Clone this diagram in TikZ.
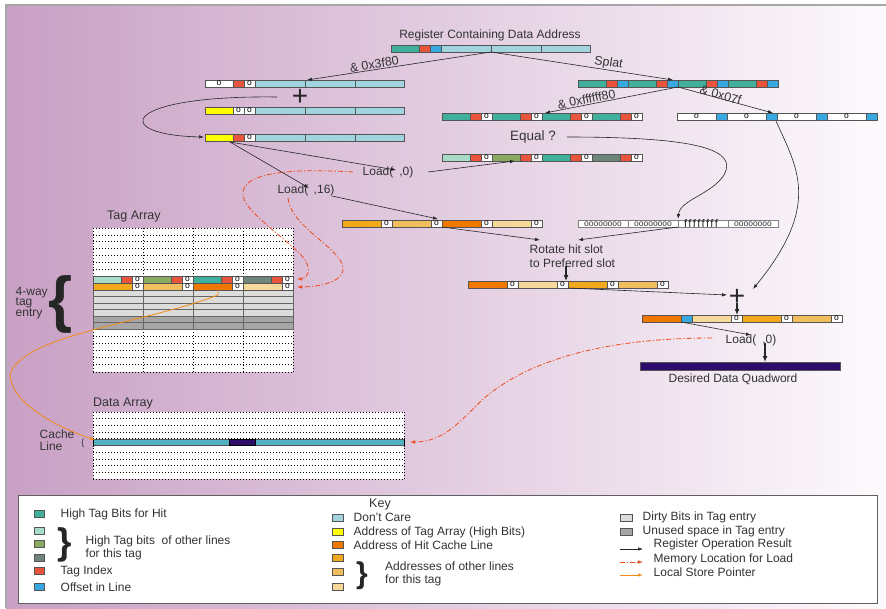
\documentclass[tikz,border=0pt]{standalone}
\usepackage{fontspec}
\setmainfont{Liberation Sans}
\usetikzlibrary{arrows.meta,calc}

\definecolor{bgL}{HTML}{C8A0C4}
\definecolor{bgR}{HTML}{FDFAFD}
\definecolor{txt}{HTML}{333333}
\definecolor{hit}{HTML}{40B09C}
\definecolor{mint}{HTML}{A8DCC8}
\definecolor{olive}{HTML}{8AAA62}
\definecolor{sage}{HTML}{6E867A}
\definecolor{tidx}{HTML}{E8553C}
\definecolor{offs}{HTML}{38A8E0}
\definecolor{dcare}{HTML}{A2D4E0}
\definecolor{tagaddr}{HTML}{FFFF00}
\definecolor{hitline}{HTML}{F07800}
\definecolor{oa}{HTML}{F2A81C}
\definecolor{ob}{HTML}{F0BE5C}
\definecolor{oc}{HTML}{F6D89A}
\definecolor{dirty}{HTML}{DCDCDA}
\definecolor{unused}{HTML}{A6A6A6}
\definecolor{quad}{HTML}{2E0C6C}
\definecolor{cline}{HTML}{52B2C2}
\definecolor{memld}{HTML}{EE4A1A}
\definecolor{lsp}{HTML}{F28A18}
\definecolor{edge}{HTML}{555555}

% a register drawn as a row of coloured fields: x, top y, list width/colour/label
\newcommand\regbar[3]{%
  \xdef\segx{#1}%
  \foreach \w/\c/\l in {#3}{%
    \pgfmathsetmacro\segend{\segx+\w}%
    \filldraw[seg,fill=\c] (\segx,#2) rectangle (\segend,#2+7);
    \node[olab] at ({(\segx+\segend)/2},#2+3.6) {\l};
    \xdef\segx{\segend}%
  }%
}
% a small colour swatch of the key: left x, centre y, width, colour
\newcommand\keyswatch[4]{\filldraw[keysq,fill=#4] (#1,#2-3.5) rectangle (#1+#3,#2+3.5);}

\begin{document}
\begin{tikzpicture}[x=1pt,y=-1pt,
  every node/.style={text=txt},
  lbl/.style={font=\fontsize{12}{13.5}\selectfont, inner sep=0.5pt},
  rlab/.style={font=\fontsize{12.5}{14}\selectfont, inner sep=0.8pt},
  seg/.style={draw=edge, line width=0.6pt},
  olab/.style={font=\fontsize{8.5}{6}\selectfont, inner sep=0pt, text=black},
  conn/.style={draw=black!85, line width=0.6pt, -{Latex[length=5pt,width=3.5pt]}},
  bigarrow/.style={draw=black!85, line width=1.4pt, -{Latex[length=6pt,width=5pt]}},
  memload/.style={draw=memld, line width=0.8pt, dash pattern=on 5pt off 2pt on 1.2pt off 2pt, -{Latex[length=5pt,width=3.5pt]}},
  lsptr/.style={draw=lsp, line width=0.8pt, -{Latex[length=5pt,width=3.5pt]}},
  dotline/.style={draw=black, line width=0.7pt, dash pattern=on 1.2pt off 1.8pt},
  grayrow/.style={draw=gray!80!black, line width=0.6pt},
  keysq/.style={draw=edge, line width=0.6pt},
  plus/.style={font=\fontsize{28}{28}\selectfont, inner sep=0pt, text=black!85},
  bigbrace/.style={font=\fontsize{#1}{#1}\selectfont\bfseries, inner sep=0pt, text=black!85},
]
\useasboundingbox (0,0) rectangle (886,608);

% page background with frame
\fill[white] (0,0) rectangle (886,608);
\shade[left color=bgL, right color=bgR] (6,5) rectangle (886,608);
\draw[gray!70, line width=1.2pt] (6,608) -- (6,5) -- (886,5);

% ---------- address register and derived values ----------
\node[lbl] (regtitle) at (490,35) {Register Containing Data Address};
\regbar{391}{45}{28/hit/{},11/tidx/{},11/offs/{},50/dcare/{},50/dcare/{},49/dcare/{}}

\regbar{205}{80}{28/white/o,11/tidx/{},11/white/o,50/dcare/{},50/dcare/{},49/dcare/{}}
\node[plus] (plusA) at (300,97) {+};
\regbar{205}{107}{28/tagaddr/{},11/white/o,11/white/o,50/dcare/{},50/dcare/{},49/dcare/{}}
\regbar{205}{134}{28/tagaddr/{},11/tidx/{},11/white/o,50/dcare/{},50/dcare/{},49/dcare/{}}

\regbar{578}{80}{28/hit/{},11/tidx/{},11/offs/{},28/hit/{},11/tidx/{},11/offs/{},28/hit/{},11/tidx/{},11/offs/{},28/hit/{},11/tidx/{},11/offs/{}}
\regbar{442}{113}{28/hit/{},11/tidx/{},11/white/o,28/hit/{},11/tidx/{},11/white/o,28/hit/{},11/tidx/{},11/white/o,28/hit/{},11/tidx/{},11/white/o}
\regbar{677}{113}{39/white/o,11/offs/{},39/white/o,11/offs/{},39/white/o,11/offs/{},39/white/o,11/offs/{}}

\node[font=\fontsize{13.5}{15}\selectfont, inner sep=0.5pt] (equal) at (533,137) {Equal ?};
\regbar{442}{154}{28/mint/{},11/tidx/{},11/white/o,28/olive/{},11/tidx/{},11/white/o,28/hit/{},11/tidx/{},11/white/o,28/sage/{},11/tidx/{},11/white/o}

\node[lbl] (load0) at (388,172) {Load(\hspace{6pt},0)};
\node[lbl] (load16) at (306,190) {Load(\hspace{5.5pt},16)};

\regbar{342}{220}{39/oa/{},11/white/o,39/ob/{},11/white/o,39/hitline/{},11/white/o,39/oc/{},11/white/o}

% rotate mask
\foreach \xx/\tt in {578/oooooooo,628/oooooooo,728/oooooooo}
  {\filldraw[draw=gray, line width=0.6pt, fill=white] (\xx,220) rectangle (\xx+50,227);
   \node[font=\fontsize{8.5}{8}\selectfont, inner sep=0pt, text=black!80] at (\xx+25,224) {\tt};}
\filldraw[draw=gray, line width=0.6pt, fill=white] (678,220) rectangle (728,227);
\node[font=\fontsize{11}{8}\selectfont\addfontfeature{LetterSpace=14}, inner sep=0pt, text=black!85] (fmask) at (701,223.5) {ffffffff};

\node[lbl, anchor=west, align=left] (rotate) at (529,256) {Rotate hit slot\\to Preferred slot};
\regbar{468}{281}{39/hitline/{},11/white/o,39/oc/{},11/white/o,39/oa/{},11/white/o,39/ob/{},11/white/o}
\node[plus] (plusB) at (737,297) {+};
\regbar{642}{315}{39/hitline/{},11/offs/{},39/oc/{},11/white/o,39/oa/{},11/white/o,39/ob/{},11/white/o}
\node[lbl] (loadq) at (751,340) {Load(\hspace{6pt},0)};
\filldraw[draw=edge, line width=0.6pt, fill=quad] (640,362) rectangle (840,370);
\node[lbl] (quadword) at (733,379) {Desired Data Quadword};

% ---------- connectors between registers ----------
\coordinate (regsplit) at (491,52);
\coordinate (aIn) at (307,80);
\coordinate (dIn) at (673,80);
\coordinate (dOut) at (678,87);
\coordinate (eIn) at (545,113);
\coordinate (fIn) at (773,113);
\coordinate (sumOut) at (277,97);
\coordinate (cIn) at (204,137);
\coordinate (cOut) at (230,142);
\coordinate (ld0tip) at (396,170);
\coordinate (ld16tip) at (309,188);
\coordinate (ld0out) at (428,172);
\coordinate (gIn) at (515,161);
\coordinate (ld16out) at (332,196);
\coordinate (hIn) at (438,219);
\coordinate (eqOut) at (567,137);
\coordinate (maskIn) at (678,219);
\coordinate (fOut) at (776,121);
\coordinate (plusBin) at (753,289);
\coordinate (hOut) at (442,227);
\coordinate (rotL) at (540,240);
\coordinate (iOut) at (678,227);
\coordinate (rotR) at (578,240);
\coordinate (rotDown) at (566,266);
\coordinate (jIn) at (566,281);
\coordinate (jOut) at (568,288);
\coordinate (plusBleft) at (727,295);
\coordinate (plusBdown) at (737,303);
\coordinate (kIn) at (737,315);
\coordinate (kOut) at (681,322);
\coordinate (loadqIn) at (751,335);
\coordinate (loadqDown) at (765,343);
\coordinate (quadIn) at (765,362);

\draw[conn] (regsplit) -- node[rlab, sloped, above, pos=0.63] (maskA) {\& 0x3f80} (aIn);
\draw[conn] (regsplit) -- node[rlab, sloped, above, pos=0.64] (splat) {Splat} (dIn);
\draw[conn] (dOut) -- node[rlab, sloped, above, pos=0.68] (maskE) {\& 0xffffff80} (eIn);
\draw[conn] (dOut) -- node[rlab, sloped, above, pos=0.44, yshift=-2pt] (maskF) {\& 0x07f} (fIn);
\draw[conn] (sumOut) .. controls (120,95) and (110,135) .. (cIn);
\draw[conn] (cOut) -- (ld0tip);
\draw[conn] (cOut) -- (ld16tip);
\draw[conn] (ld0out) -- (gIn);
\draw[conn] (ld16out) -- (hIn);
\draw[conn] (eqOut) .. controls (700,137) and (738,150) .. (724,175) .. controls (712,194) and (680,200) .. (maskIn);
\draw[conn] (fOut) .. controls (797,168) and (822,205) .. (plusBin);
\draw[conn] (hOut) -- (rotL);
\draw[conn] (iOut) -- (rotR);
\draw[bigarrow] (rotDown) -- (jIn);
\draw[conn] (jOut) -- (plusBleft);
\draw[bigarrow] (plusBdown) -- (kIn);
\draw[conn] (kOut) -- (loadqIn);
\draw[bigarrow] (loadqDown) -- (quadIn);

% ---------- tag array ----------
\node[font=\fontsize{12.5}{14}\selectfont, anchor=west, inner sep=0pt] (tagtitle) at (107,216) {Tag Array};
\fill[white] (93,228) rectangle (293,276);
\fill[white] (93,329) rectangle (293,372);
\foreach \k in {0,...,7} \draw[dotline] (93,{228+\k*48/7}) -- (293,{228+\k*48/7});
\foreach \k in {0,...,6} \draw[dotline] (93,{329+\k*43/6}) -- (293,{329+\k*43/6});
\foreach \xx in {93,143,193,243,293} {\draw[dotline] (\xx,228) -- (\xx,276); \draw[dotline] (\xx,329) -- (\xx,372);}
\foreach \k in {0,...,3} \filldraw[grayrow,fill=dirty] (93,{290+\k*6.5}) rectangle (293,{296.5+\k*6.5});
\foreach \k in {0,1} \filldraw[grayrow,fill=unused] (93,{316+\k*6.5}) rectangle (293,{322.5+\k*6.5});
\foreach \xx in {143,193,243} \draw[grayrow] (\xx,290) -- (\xx,329);
\regbar{93}{276}{28/mint/{},11/tidx/{},11/white/o,28/olive/{},11/tidx/{},11/white/o,28/hit/{},11/tidx/{},11/white/o,28/sage/{},11/tidx/{},11/white/o}
\regbar{93}{283}{39/oa/{},11/white/o,39/ob/{},11/white/o,39/hitline/{},11/white/o,39/oc/{},11/white/o}

\node[lbl, anchor=west, align=left, font=\fontsize{12}{10.5}\selectfont] (wayentry) at (15,303) {4-way\\tag\\entry};
\node[bigbrace=62] (waybrace) at (61,304) {\{};

% ---------- data array ----------
\node[font=\fontsize{12.5}{14}\selectfont, anchor=west, inner sep=0pt] (datatitle) at (93,403) {Data Array};
\fill[white] (93,412) rectangle (404,479);
\foreach \yy in {412,418.7,425.4,432.1,438.8,445.5,452.2,458.9,465.6,472.3,479} \draw[dotline] (93,\yy) -- (404,\yy);
\draw[dotline] (93,412) -- (93,479);
\draw[dotline] (404,412) -- (404,479);
\filldraw[draw=edge, line width=0.5pt, fill=cline] (93,439) rectangle (404,445.5);
\filldraw[draw=black, line width=0.6pt, fill=quad] (229,439) rectangle (255,445.5);
\draw[line width=1pt] (93,437.5) -- (93,447);
\draw[line width=1pt] (404,437.5) -- (404,447);
\node[lbl, anchor=west, align=left, font=\fontsize{12}{11.5}\selectfont] (cachelbl) at (39,440) {Cache\\Line};
\node[font=\fontsize{9}{9}\selectfont, inner sep=0pt] (cachebrace) at (83,443) {\{};

% ---------- memory and local store pointers ----------
\coordinate (m1s) at (353,172);
\coordinate (m1e) at (297,279);
\coordinate (m2s) at (288,198);
\coordinate (m2e) at (297,287);
\coordinate (m3s) at (712,338);
\coordinate (m3e) at (410,442);
\coordinate (lss) at (218,289);
\coordinate (lse) at (95,440);
\draw[memload] (m1s) .. controls (240,165) and (228,188) .. (255,214) .. controls (282,240) and (306,254) .. (308,267) .. controls (310,276) and (303,279) .. (m1e);
\draw[memload] (m2s) .. controls (290,226) and (340,248) .. (343,267) .. controls (345,283) and (316,287) .. (m2e);
\draw[memload] (m3s) .. controls (600,338) and (525,362) .. (482,400) .. controls (458,424) and (442,442) .. (m3e);
\draw[lsptr] (lss) -- (218,295) .. controls (150,322) and (20,335) .. (10,375) .. controls (12,405) and (60,428) .. (lse);

% ---------- key ----------
\filldraw[fill=white, draw=gray!75!black, line width=0.9pt] (18,495) rectangle (877,603);
\node[font=\fontsize{12.5}{14}\selectfont, inner sep=0pt] (keytitle) at (380,504) {Key};

\keyswatch{34}{514}{10}{hit}
\keyswatch{34}{531}{10}{mint}
\keyswatch{34}{544}{10}{olive}
\keyswatch{34}{558}{10}{sage}
\keyswatch{34}{571}{10}{tidx}
\keyswatch{34}{587}{10}{offs}
\node[lbl, anchor=west] (k1) at (60,514) {High Tag Bits for Hit};
\node[bigbrace=37] (kbraceL) at (65,545) {\}};
\node[lbl, anchor=west, align=left] (k2) at (85,548) {High Tag bits~ of other lines\\for this tag};
\node[lbl, anchor=west] (k3) at (60,571) {Tag Index};
\node[lbl, anchor=west] (k4) at (60,587) {Offset in Line};

\keyswatch{332}{518}{11}{dcare}
\keyswatch{332}{532}{11}{tagaddr}
\keyswatch{332}{545}{11}{hitline}
\keyswatch{332}{558}{11}{oa}
\keyswatch{332}{572}{11}{ob}
\keyswatch{332}{587}{11}{oc}
\node[lbl, anchor=west] (k5) at (353,517) {Don't Care};
\node[lbl, anchor=west] (k6) at (353,532) {Address of Tag Array (High Bits)};
\node[lbl, anchor=west] (k7) at (353,545) {Address of Hit Cache Line};
\node[bigbrace=30] (kbraceM) at (362,576) {\}};
\node[lbl, anchor=west, inner sep=0pt] (k8a) at (385,566) {Addresses of other lines};
\node[lbl, anchor=west, inner sep=0pt] (k8b) at (385,580.5) {for this tag};

\keyswatch{620}{518}{12}{dirty}
\keyswatch{620}{532}{12}{unused}
\node[lbl, anchor=west] (k9) at (642,517) {Dirty Bits in Tag entry};
\node[lbl, anchor=west] (k10) at (642,531) {Unused space in Tag entry};
\node[lbl, anchor=west] (k11) at (653,544) {Register Operation Result};
\node[lbl, anchor=west] (k12) at (653,559) {Memory Location for Load};
\node[lbl, anchor=west] (k13) at (653,572) {Local Store Pointer};
\coordinate (ka1) at (620,549); \coordinate (kb1) at (643,549);
\coordinate (ka2) at (620,562); \coordinate (kb2) at (643,562);
\coordinate (ka3) at (620,575); \coordinate (kb3) at (643,575);
\draw[conn] (ka1) -- (kb1);
\draw[memload] (ka2) -- (kb2);
\draw[lsptr] (ka3) -- (kb3);
\end{tikzpicture}
\end{document}
